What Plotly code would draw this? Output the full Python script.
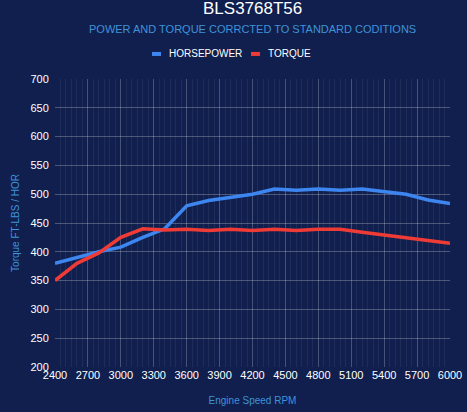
import plotly.graph_objects as go

rpm = [2400, 2600, 2800, 3000, 3200, 3400, 3600, 3800, 4000, 4200,
       4400, 4600, 4800, 5000, 5200, 5400, 5600, 5800, 6000]
horsepower = [380, 390, 400, 408, 425, 440, 480, 489, 495, 500,
              509, 507, 509, 507, 509, 504, 500, 490, 484]
torque = [350, 380, 398, 425, 440, 438, 439, 437, 439, 437,
          439, 437, 439, 439, 434, 429, 424, 419, 415]

x_ticks = [2400, 2700, 3000, 3300, 3600, 3900, 4200, 4500, 4800, 5100, 5400, 5700, 6000]

bg = "#101f4e"
hp_color = "#3d86f0"
tq_color = "#ee3b36"
sub_color = "#3f93d8"

fig = go.Figure()
fig.add_trace(go.Scatter(x=rpm, y=horsepower, name="HORSEPOWER", mode="lines",
                         line=dict(color=hp_color, width=3.5)))
fig.add_trace(go.Scatter(x=rpm, y=torque, name="TORQUE", mode="lines",
                         line=dict(color=tq_color, width=3.5)))

fig.update_layout(
    width=467, height=412,
    paper_bgcolor=bg, plot_bgcolor=bg,
    font=dict(family="Liberation Sans, Arial, sans-serif", color="white", size=11),
    margin=dict(l=55, r=17, t=79, b=45, autoexpand=False),
    showlegend=False,
)

# title, subtitle
fig.add_annotation(text="BLS3768T56", xref="paper", yref="paper", x=0.5, y=1.245,
                   yanchor="middle", showarrow=False, font=dict(size=17, color="white"))
fig.add_annotation(text="POWER AND TORQUE CORRCTED TO STANDARD CODITIONS",
                   xref="paper", yref="paper", x=0.5, y=1.174, yanchor="middle",
                   showarrow=False, font=dict(size=11, color=sub_color))

# legend (small rectangles like the original)
for x0, label, col in [(0.2456, "HORSEPOWER", hp_color), (0.4962, "TORQUE", tq_color)]:
    fig.add_shape(type="rect", xref="paper", yref="paper",
                  x0=x0, x1=x0 + 0.0228, y0=1.08, y1=1.094,
                  fillcolor=col, line=dict(width=0))
    fig.add_annotation(text=label, xref="paper", yref="paper", x=x0 + 0.037, y=1.087,
                       xanchor="left", yanchor="middle", showarrow=False,
                       font=dict(size=10, color="white"))

fig.update_xaxes(
    range=[2400, 6000], tickvals=x_ticks, ticktext=[str(v) for v in x_ticks],
    showgrid=True, gridcolor="rgba(255,255,255,0.18)", gridwidth=1,
    minor=dict(dtick=50, showgrid=True, gridcolor="rgba(255,255,255,0.06)"),
    zeroline=False, showline=False, ticks="",
    tickfont=dict(size=11, color="white"),
    title=dict(text="Engine Speed RPM", font=dict(size=10, color=sub_color), standoff=16),
)
fig.update_yaxes(
    range=[200, 700], dtick=50,
    showgrid=True, gridcolor="rgba(255,255,255,0.25)", gridwidth=1,
    zeroline=False, showline=False, ticks="outside", ticklen=3, tickcolor=bg,
    tickfont=dict(size=11, color="white"),
    title=dict(text="Torque FT-LBS / HOR", font=dict(size=10, color=sub_color), standoff=8),
)

# page body margin off so the figure sits at the window's corner
fig.write_html("out.html", config={"displayModeBar": False},
               post_script="document.body.style.margin='0px';")
